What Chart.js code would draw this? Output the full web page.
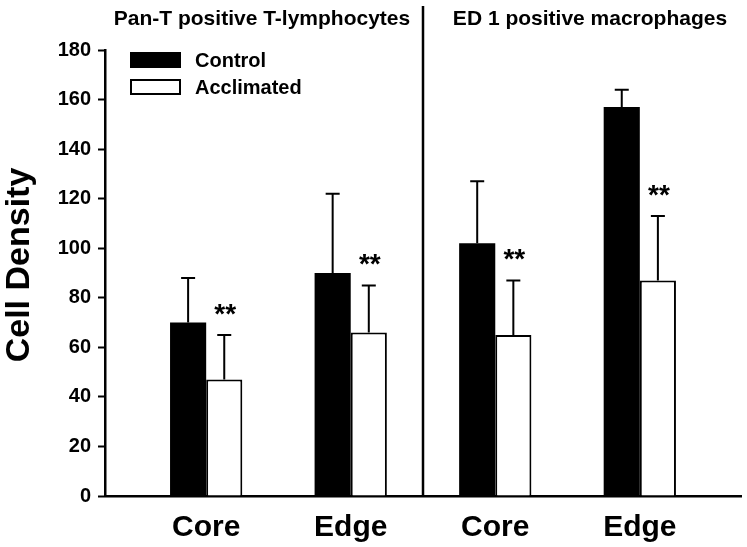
<!DOCTYPE html>
<html>
<head>
<meta charset="utf-8">
<script src="https://cdn.jsdelivr.net/npm/chart.js@4/dist/chart.umd.min.js"></script>
<style>
  html, body { margin: 0; padding: 0; background: #fff; }
  #wrap { width: 747px; height: 547px; }
</style>
</head>
<body>
<div id="wrap"><canvas id="cellChart" width="747" height="547"></canvas></div>
<script>
const categories = ["Core", "Edge", "Core", "Edge"];
const panels = ["Pan-T positive T-lymphocytes", "ED 1 positive macrophages"];
const yTitle = "Cell Density";
const control = [70, 90, 102, 157];
const controlErr = [88, 122, 127, 164]; // top of error bar
const acclimated = [47, 66, 65, 87];
const acclimatedErr = [65, 85, 87, 113];
const significance = ["**", "**", "**", "**"];
const yTicks = [0, 20, 40, 60, 80, 100, 120, 140, 160, 180];

const FONT = "Arial, 'Liberation Sans', Helvetica, sans-serif";

const toPoints = arr => arr.map((v, i) => ({ x: i + 1, y: v }));

// error bars (upper only), ** marks, divider, panel titles, legend, y title
const extras = {
  id: "extras",
  afterDatasetsDraw(chart) {
    const { ctx, scales: { x, y }, chartArea } = chart;
    const errs = [controlErr, acclimatedErr];
    ctx.save();
    ctx.strokeStyle = "#000";
    ctx.lineWidth = 2;
    errs.forEach((tops, di) => {
      chart.getDatasetMeta(di).data.forEach((bar, i) => {
        const yTop = y.getPixelForValue(tops[i]);
        ctx.beginPath();
        ctx.moveTo(bar.x, bar.y);
        ctx.lineTo(bar.x, yTop);
        ctx.moveTo(bar.x - 7, yTop);
        ctx.lineTo(bar.x + 7, yTop);
        ctx.stroke();
      });
    });

    // significance marks above the acclimated error bars
    ctx.fillStyle = "#000";
    ctx.font = "bold 28px " + FONT;
    ctx.textAlign = "center";
    ctx.textBaseline = "alphabetic";
    chart.getDatasetMeta(1).data.forEach((bar, i) => {
      const yTop = y.getPixelForValue(acclimatedErr[i]);
      ctx.fillText(significance[i], bar.x + 1, yTop - 12);
    });

    // divider between the two panels
    const xd = x.getPixelForValue(2.5);
    ctx.lineWidth = 2.5;
    ctx.beginPath();
    ctx.moveTo(xd, 6);
    ctx.lineTo(xd, chartArea.bottom);
    ctx.stroke();

    // panel titles
    ctx.font = "bold 21px " + FONT;
    ctx.textBaseline = "middle";
    ctx.fillText(panels[0], 262, 19);
    ctx.fillText(panels[1], 590, 19);

    // y axis title
    ctx.save();
    ctx.translate(20, 265);
    ctx.rotate(-Math.PI / 2);
    ctx.font = "bold 34px " + FONT;
    ctx.fillText(yTitle, 0, 0);
    ctx.restore();

    // legend
    ctx.lineWidth = 2;
    chart.data.datasets.forEach((ds, i) => {
      const top = 53 + i * 27;
      ctx.fillStyle = ds.backgroundColor;
      ctx.fillRect(131, top, 49, 14);
      ctx.strokeStyle = "#000";
      ctx.strokeRect(131, top, 49, 14);
      ctx.fillStyle = "#000";
      ctx.font = "bold 20px " + FONT;
      ctx.textAlign = "left";
      ctx.fillText(ds.label, 195, top + 8);
    });
    ctx.restore();
  }
};

new Chart(document.getElementById("cellChart").getContext("2d"), {
  type: "bar",
  data: {
    datasets: [
      {
        label: "Control",
        data: toPoints(control),
        backgroundColor: "#000",
        borderColor: "#000",
        borderWidth: 0,
      },
      {
        label: "Acclimated",
        data: toPoints(acclimated),
        backgroundColor: "#fff",
        borderColor: "#000",
        borderWidth: { top: 2, left: 2, right: 2, bottom: 0 },
      },
    ],
  },
  options: {
    responsive: false,
    animation: false,
    layout: { padding: { top: 50, right: 6, left: 0, bottom: 0 } },
    plugins: {
      legend: { display: false },
      tooltip: { enabled: false },
    },
    datasets: {
      bar: { categoryPercentage: 0.5, barPercentage: 1 },
    },
    scales: {
      x: {
        type: "linear",
        min: 0.3,
        max: 4.7,
        offset: false,
        grid: { display: false, offset: false },
        border: { display: true, color: "#000", width: 2.5 },
        afterBuildTicks: axis => {
          axis.ticks = categories.map((c, i) => ({ value: i + 1 }));
        },
        afterFit: axis => { axis.height = 51; },
        ticks: {
          padding: 6,
          color: "#000",
          font: { family: FONT, size: 30, weight: "bold" },
          callback: v => categories[v - 1],
          maxRotation: 0,
        },
      },
      y: {
        min: 0,
        max: 180,
        afterBuildTicks: axis => {
          axis.ticks = yTicks.map(v => ({ value: v }));
        },
        afterFit: axis => { axis.width = 105; },
        grid: {
          drawOnChartArea: false,
          drawTicks: true,
          tickLength: 7,
          tickColor: "#000",
          tickWidth: 2,
        },
        border: { display: true, color: "#000", width: 2.5 },
        ticks: {
          padding: 7,
          color: "#000",
          font: { family: FONT, size: 20, weight: "bold" },
        },
      },
    },
  },
  plugins: [extras],
});
</script>
</body>
</html>
